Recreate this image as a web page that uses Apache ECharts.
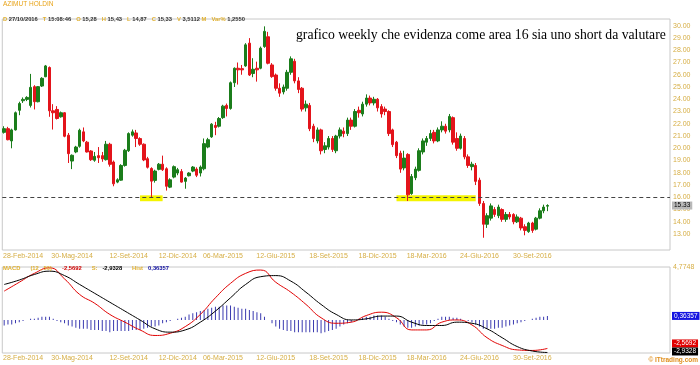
<!DOCTYPE html>
<html><head><meta charset="utf-8">
<script src="https://cdn.jsdelivr.net/npm/echarts@6/dist/echarts.min.js"></script>
<style>html,body{margin:0;padding:0;background:#fff}#c{width:700px;height:365px}</style>
</head><body><div id="c"></div>
<script>
// ---- data (weekly candles, Jan 2014 - Oct 2016) ----
const opens = [21.3,21.6,20.6,21.5,23.1,23.88,23.99,23.5,25.03,23.8,
25.08,25.84,26.59,23.06,23.17,22.57,22.9,21.07,18.96,19.7,
20.16,21.34,20.5,19.78,19.02,19.4,19.4,19.07,20.33,18.88,
17.24,17.4,18.6,19.8,21.07,21.25,20.79,20.33,19.15,18.35,
17.38,18.28,18.7,18.33,16.83,17.65,17.98,18.1,17.3,17.76,
18.14,18.3,17.98,18.33,20.1,20.93,21.86,21.8,22.5,23.5,
23.25,25.35,26.53,26.5,26.72,28.58,26.1,26.53,26.53,28.3,
29.1,26.8,25.98,24.9,24.6,24.9,26.2,27.1,25.5,24.9,
23.3,23.5,21.8,20.6,21.5,19.9,20.1,20.8,19.8,21.0,
21.4,21.2,22.3,21.8,23.1,22.8,23.6,24.1,23.7,24.0,
23.4,23.2,23.0,21.5,20.5,19.6,18.4,19.5,16.3,17.6,
18.2,19.7,20.5,20.8,21.3,20.6,21.5,21.8,21.5,22.5,
20.8,20.0,20.8,19.3,18.5,18.6,17.4,15.5,13.8,14.3,
15.0,14.5,15.0,14.2,14.6,14.6,14.0,14.3,13.6,13.2,
13.9,13.4,14.3,14.9,15.28];
const closes = [21.6,20.7,21.5,22.9,23.65,23.99,24.15,24.97,23.8,25.03,
25.71,26.72,23.06,22.9,22.43,22.9,20.98,19.56,19.43,20.1,
21.47,20.6,19.7,19.07,19.34,19.23,19.13,20.33,18.69,17.1,
17.43,18.6,19.84,21.2,21.34,20.8,20.33,19.05,18.45,17.32,
18.14,18.7,18.25,16.9,17.43,18.5,18.25,17.24,17.57,17.98,
18.47,17.8,18.47,20.38,20.7,21.97,21.7,22.43,23.44,23.25,
25.35,26.53,26.4,26.4,28.44,25.98,26.45,26.4,28.17,29.54,
26.94,25.85,24.9,24.5,25.0,26.2,27.3,25.5,24.8,23.2,
23.6,21.6,20.8,21.5,19.8,20.2,20.8,19.9,21.0,21.5,
21.2,22.3,21.8,23.0,22.9,23.6,24.1,23.7,24.0,23.3,
22.8,23.0,21.2,20.3,19.4,18.3,19.2,16.2,17.7,18.3,
19.8,20.6,20.8,21.2,20.6,21.5,21.8,21.4,22.6,20.5,
20.0,21.0,19.3,18.6,18.7,17.3,15.5,13.8,14.5,15.3,
14.6,15.2,14.2,14.6,14.4,14.0,14.4,13.5,13.3,13.9,
13.3,14.3,14.9,15.2,15.33];
const lows = [21.2,20.65,20.0,21.45,22.7,23.7,23.85,23.33,23.17,23.75,
25.0,25.8,22.57,21.53,22.35,22.5,20.9,18.8,18.3,19.6,
20.05,20.5,19.65,18.97,18.9,18.8,18.9,19.0,18.5,16.9,
17.15,17.35,18.5,19.7,20.95,20.1,20.2,18.95,18.35,15.98,
17.2,18.2,18.15,16.55,16.75,17.55,17.8,17.2,16.7,17.7,
18.05,17.65,17.7,18.2,20.0,20.85,21.07,21.7,22.4,22.6,
23.15,25.0,25.2,26.0,26.65,25.9,25.8,25.44,26.45,28.2,
26.85,25.75,24.7,24.2,24.4,24.7,26.0,25.3,24.5,23.0,
23.0,21.4,20.5,20.4,19.5,19.6,19.9,19.7,19.6,20.8,
20.9,21.0,21.5,21.7,22.5,22.6,23.4,23.5,23.5,23.0,
22.5,22.7,21.0,20.1,19.2,18.0,18.2,15.7,16.2,17.4,
18.1,19.5,20.2,20.6,20.4,20.5,21.3,21.2,21.3,20.3,
19.8,19.9,19.1,18.4,18.2,17.0,15.3,12.7,13.5,14.1,
14.4,14.3,14.0,14.0,14.2,13.8,13.9,13.3,12.9,13.1,
13.1,13.3,14.2,14.7,14.87];
const highs = [21.8,21.75,21.6,23.0,23.8,24.15,24.25,26.07,25.15,25.08,
25.8,26.8,26.68,23.6,23.44,23.0,22.95,21.25,19.5,20.2,
21.6,21.7,20.6,19.85,19.7,20.1,19.7,20.6,20.45,19.0,
17.55,18.7,19.95,21.3,21.53,21.5,20.9,20.4,19.3,18.45,
18.25,18.8,19.4,18.45,17.55,18.6,18.4,18.3,17.65,18.05,
18.55,18.45,18.6,20.8,20.85,22.05,22.16,22.55,23.55,23.65,
25.45,26.6,27.0,26.8,28.58,28.99,27.35,27.07,28.3,29.95,
29.5,26.95,26.1,25.3,25.2,26.4,27.5,27.3,25.8,25.0,
23.9,23.7,22.0,21.7,21.6,20.5,21.0,21.0,21.1,21.7,
21.7,22.5,22.5,23.2,23.4,23.8,24.4,24.3,24.2,24.1,
23.6,23.4,23.1,21.6,20.6,19.8,19.8,19.6,17.9,18.5,
20.0,20.8,21.0,21.5,21.5,21.7,22.2,22.0,22.8,22.6,
21.3,21.2,21.0,19.5,18.9,18.8,17.6,15.7,14.7,15.5,
15.2,15.4,15.1,14.8,14.8,14.7,14.6,14.4,13.8,14.0,
14.0,14.4,15.1,15.4,15.43];

// MACD lines read every 4 weeks
const macdLine = [2.6,3.4,4.2,4.7,3.7,2.3,1.5,0.5,-0.2,-0.9,-1.4,-1.2,-0.6,0.5,2.0,3.3,4.2,4.5,3.4,2.5,1.4,0.2,-0.3,-0.2,0.4,0.7,0.2,-0.9,-0.9,-0.2,0.0,-0.45,-1.6,-2.3,-2.7,-2.75,-2.5692];
const signalLine = [3.2,3.6,4.1,4.4,4.0,3.2,2.4,1.6,0.8,0.0,-0.8,-1.1,-0.9,-0.2,0.8,2.0,3.2,3.9,4.0,3.5,2.5,1.4,0.5,0.0,0.1,0.35,0.35,-0.2,-0.5,-0.5,-0.2,-0.3,-0.8,-1.6,-2.4,-2.8,-2.9328];
const histValues = [-0.5,-0.4,-0.4,-0.3,-0.2,-0.1,0.0,0.1,
0.1,0.2,0.3,0.3,0.3,0.1,-0.1,-0.2,
-0.3,-0.5,-0.6,-0.7,-0.8,-0.8,-0.8,-0.9,
-0.9,-0.9,-1.0,-1.0,-1.1,-1.0,-1.0,-1.0,
-1.0,-1.0,-0.9,-0.9,-0.9,-0.8,-0.7,-0.6,
-0.6,-0.5,-0.3,-0.2,-0.1,0.0,0.1,0.2,
0.3,0.5,0.6,0.7,0.8,0.9,1.0,1.1,
1.2,1.2,1.3,1.3,1.3,1.2,1.1,1.0,
1.0,0.9,0.8,0.7,0.6,0.3,0.0,-0.3,
-0.6,-0.8,-0.9,-1.0,-1.0,-1.1,-1.1,-1.1,
-1.1,-1.1,-1.1,-1.1,-1.2,-1.1,-1.0,-0.9,
-0.8,-0.6,-0.4,-0.3,-0.2,0.0,0.1,0.2,
0.3,0.3,0.4,0.4,0.4,0.3,0.1,-0.1,
-0.2,-0.4,-0.6,-0.7,-0.7,-0.6,-0.5,-0.4,
-0.4,-0.3,-0.1,0.1,0.3,0.3,0.3,0.2,
0.2,0.1,0.0,-0.1,-0.2,-0.4,-0.6,-0.8,
-0.8,-0.8,-0.8,-0.7,-0.7,-0.6,-0.5,-0.4,
-0.3,-0.2,-0.1,0.0,0.1,0.2,0.3,0.3,
0.36357];

const tickLabels = ['28-Feb-2014','30-Mag-2014','12-Set-2014','12-Dic-2014','06-Mar-2015','12-Giu-2015','18-Set-2015','18-Dic-2015','18-Mar-2016','24-Giu-2016','30-Set-2016'];
const priceTicks = [13,14,15,16,17,18,19,20,21,22,23,24,25,26,27,28,29,30];
const levelLine = 16;
const highlightWeeks = [[36,42],[104,125]];

// ---- categories ----
const MESI = ['Gen','Feb','Mar','Apr','Mag','Giu','Lug','Ago','Set','Ott','Nov','Dic'];
function fmt(d){return String(d.getUTCDate()).padStart(2,'0')+'-'+MESI[d.getUTCMonth()]+'-'+d.getUTCFullYear();}
const SLOTS = 177;
const firstWeek = Date.UTC(2014,0,24);
const weeks = [];
for (let i=0;i<SLOTS;i++) weeks.push(fmt(new Date(firstWeek + i*7*86400000)));
const tickSet = new Set(tickLabels);

const candles = opens.map((o,i)=>[o, closes[i], lows[i], highs[i]]);
const macdData = macdLine.map((v,k)=>[k*4, v]);
const sigData = signalLine.map((v,k)=>[k*4, v]);
const comma = v => String(v).replace('.', ',');
const last = a => a[a.length-1];

const LBL = '#d6ae45';
const FONT = 'Liberation Sans';
const NOLINE = {color:'rgba(0,0,0,0)', width:0};
const xLabel = {show:true, fontSize:7, color:LBL, fontFamily:FONT, margin:3,
  interval:(idx,val)=>tickSet.has(val)};
function boxLabel(bg, fg, text, off){
  return {show:true, position:'end', distance:2, offset:off||[0,0], formatter:()=>text,
    backgroundColor:bg, color:fg, fontSize:6.5, fontFamily:FONT, padding:[1,2,0,2]};
}

const chart = echarts.init(document.getElementById('c'), null, {renderer:'canvas'});
chart.setOption({
  animation:false,
  backgroundColor:'#fff',
  title:[
    {text:'AZIMUT HOLDIN', left:3, top:1, padding:0,
     textStyle:{color:'#e8a317', fontSize:6.5, fontWeight:'normal', fontFamily:FONT}},
    {text:'{y|D }{v|27/10/2016} {y|T }{v|15:08:46} {y|O }{v|15,28} {y|H }{v|15,43} {y|L }{v|14,87} {y|C }{v|15,33} {y|V }{v|3,5112 }{y|M} {y|Var% }{v|1,2550}',
     left:3, top:10, padding:0,
     textStyle:{fontFamily:FONT, rich:{y:{color:'#e0b030',fontSize:5.8,fontFamily:FONT}, v:{color:'#333',fontSize:5.8,fontFamily:FONT}}}},
    {text:'grafico weekly che evidenza come area 16 sia uno short da valutare', left:296, top:28, padding:0,
     textStyle:{fontFamily:'Liberation Serif', fontSize:13.7, fontWeight:'normal', color:'#000'}},
    {text:'{y|MACD}  {y|(12 , 50)}  {r|-2,5692}  {y|S:} {k|-2,9328}  {y|Hist} {b|0,36357}',
     left:3, top:259, padding:0,
     textStyle:{fontFamily:FONT, rich:{y:{color:'#e0b030',fontSize:5.8,fontFamily:FONT}, r:{color:'#d00000',fontSize:5.8,fontFamily:FONT}, k:{color:'#000',fontSize:5.8,fontFamily:FONT}, b:{color:'#1010a0',fontSize:5.8,fontFamily:FONT}}}},
    {text:'© ITtrading.com', right:2, top:357, padding:0,
     textStyle:{color:'#e09020', fontSize:6.5, fontWeight:'bold', fontFamily:FONT}}
  ],
  grid:[
    {left:2, right:30, top:19, height:231, show:true, borderColor:'#c8c8c8', borderWidth:1},
    {left:2, right:30, top:267, height:86, show:true, borderColor:'#c8c8c8', borderWidth:1}
  ],
  xAxis:[
    {type:'category', gridIndex:0, data:weeks, boundaryGap:true,
     axisLine:{show:false}, axisTick:{show:false}, splitLine:{show:false}, axisLabel:xLabel},
    {type:'category', gridIndex:1, data:weeks, boundaryGap:true,
     axisLine:{show:false}, axisTick:{show:false}, splitLine:{show:false}, axisLabel:Object.assign({}, xLabel, {margin:2})}
  ],
  yAxis:[
    {type:'value', gridIndex:0, position:'right', min:11.7, max:30.55, scale:true,
     axisLine:{show:false}, axisTick:{show:false}, splitLine:{show:false},
     axisLabel:{customValues:priceTicks, formatter:v=>v.toFixed(2), fontSize:7, color:LBL, fontFamily:FONT, margin:3}},
    {type:'value', gridIndex:1, position:'right', min:-2.98, max:4.7748,
     axisLine:{show:false}, axisTick:{show:false}, splitLine:{show:false},
     axisLabel:{customValues:[4.7748], formatter:v=>comma(v), fontSize:7, color:LBL, fontFamily:FONT, margin:3}}
  ],
  series:[
    {type:'candlestick', xAxisIndex:0, yAxisIndex:0, data:candles, barWidth:3, clip:false,
     itemStyle:{color:'#1b7d1b', color0:'#e3141b', borderColor:'#1b7d1b', borderColor0:'#e3141b', borderWidth:1},
     markArea:{silent:true, itemStyle:{color:'#f4f400'},
       data:highlightWeeks.map(h=>[{xAxis:h[0], yAxis:15.68},{xAxis:h[1], yAxis:16.16}])},
     markLine:{silent:true, symbol:['none','none'], animation:false,
       data:[
         {yAxis:levelLine, lineStyle:{color:'#444', type:[4,3], width:1}, label:{show:false}},
         {yAxis:last(closes), lineStyle:NOLINE,
          label:boxLabel('#b8b8b8', '#000', last(closes).toFixed(2))}
       ]}
    },
    {type:'bar', xAxisIndex:1, yAxisIndex:1, data:histValues, barWidth:1, itemStyle:{color:'#3a3ab0'},
     markLine:{silent:true, symbol:['none','none'], precision:5, data:[{yAxis:last(histValues), lineStyle:NOLINE,
       label:boxLabel('#1414e0', '#fff', comma(last(histValues)))}]}},
    {type:'line', xAxisIndex:1, yAxisIndex:1, data:macdData, smooth:true, showSymbol:false, lineStyle:{color:'#e00000', width:1},
     markLine:{silent:true, symbol:['none','none'], precision:5, data:[{yAxis:last(macdLine), lineStyle:NOLINE,
       label:boxLabel('#e00000', '#fff', comma(last(macdLine)), [0,-5])}]}},
    {type:'line', xAxisIndex:1, yAxisIndex:1, data:sigData, smooth:true, showSymbol:false, lineStyle:{color:'#000', width:1},
     markLine:{silent:true, symbol:['none','none'], precision:5, data:[{yAxis:last(signalLine), lineStyle:NOLINE,
       label:boxLabel('#000', '#fff', comma(last(signalLine)), [0,-1])}]}}
  ]
});
</script></body></html>
